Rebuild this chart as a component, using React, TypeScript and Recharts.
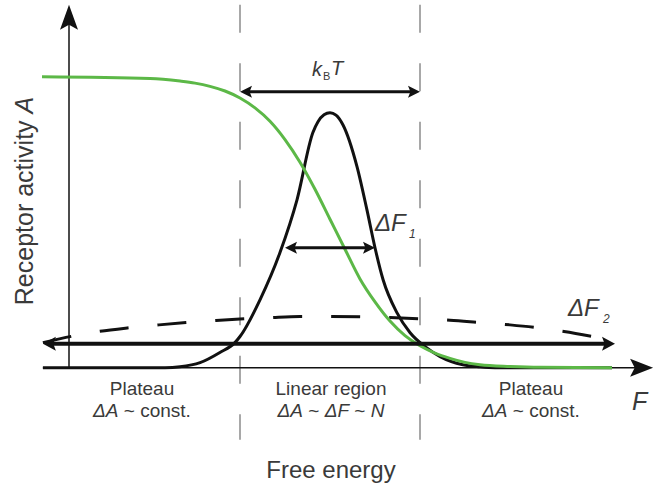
import React from 'react';
import { ComposedChart, Line, XAxis, YAxis, ReferenceLine } from 'recharts';

// free energy F (centre of linear region at 0) and receptor activity A
const greenF = [-9.6, -6, -5, -4.5, -4, -3.5, -3, -2.5, -2, -1.5, -1, -0.5, 0, 0.5, 1, 1.5, 2, 2.5, 3, 3.5, 4, 4.5, 5, 6, 7, 9.4];
const greenA = [1.0, 0.994, 0.985, 0.978, 0.967, 0.951, 0.927, 0.893, 0.847, 0.784, 0.706, 0.613, 0.51, 0.407, 0.305, 0.226, 0.16, 0.11, 0.075, 0.05, 0.032, 0.018, 0.01, 0.004, 0.001, 0];

// narrow distribution (ΔF1)
const peakF = [-9.57, -5.5, -5, -4.33, -3.67, -3.17, -3, -2.33, -1.67, -1.1, -0.57, -0.4, -0.2, 0, 0.2, 0.43, 0.9, 1.23, 1.5, 1.77, 2.23, 2.67, 3.17, 3.67, 4.43, 5, 5.5, 9.4];
const peakA = [0, 0, 0.003, 0.017, 0.052, 0.086, 0.107, 0.234, 0.395, 0.577, 0.808, 0.845, 0.869, 0.876, 0.868, 0.835, 0.691, 0.543, 0.412, 0.302, 0.189, 0.12, 0.072, 0.038, 0.01, 0.003, 0, 0];

// wide distribution (ΔF2), dashed
const wideF = [-9.57, -8.6, -7.67, -6.7, -5.7, -4.8, -3.8, -3, -2, -1, 0, 1, 2, 3, 4, 5, 6, 7, 7.8, 8.77];
const wideA = [0.086, 0.108, 0.125, 0.137, 0.147, 0.155, 0.162, 0.167, 0.172, 0.176, 0.176, 0.175, 0.172, 0.168, 0.163, 0.155, 0.147, 0.136, 0.124, 0.107];

// region borders and arrows
const regionEdges = [-3, 3];
const dashTop = 1.247;
const dashBottom = -0.248;
const kbtY = 0.948;
const df1Span = [-1.5, 1.5];
const df1Y = 0.412;
const rangeSpan = [-9.57, 9.5];
const rangeY = 0.0825;
const axisXSpan = [-9.57, 10.77];
const axisYX = -8.7;

const greenData = greenF.map((f, i) => ({ f, a: greenA[i] }));
const peakData = peakF.map((f, i) => ({ f, a: peakA[i] }));
const wideData = wideF.map((f, i) => ({ f, a: wideA[i] }));

const W = 666;
const H = 489;
const FONT = '"Liberation Sans", Arial, sans-serif';

type ArrowOpts = { color: string; width: number; head: number; half: number; start?: boolean; end?: boolean };

function arrowShape(o: ArrowOpts) {
  return (p: any) => {
    const { x1, y1, x2, y2 } = p;
    const len = Math.hypot(x2 - x1, y2 - y1) || 1;
    const ux = (x2 - x1) / len;
    const uy = (y2 - y1) / len;
    const nx = -uy;
    const ny = ux;
    const tri = (tx: number, ty: number, d: number) => {
      const bx = tx - d * ux * o.head;
      const by = ty - d * uy * o.head;
      const mx = tx - d * ux * o.head * 0.8;
      const my = ty - d * uy * o.head * 0.8;
      return `${tx},${ty} ${bx + nx * o.half},${by + ny * o.half} ${mx},${my} ${bx - nx * o.half},${by - ny * o.half}`;
    };
    const sx = o.start ? x1 + ux * o.head * 0.7 : x1;
    const sy = o.start ? y1 + uy * o.head * 0.7 : y1;
    const ex = o.end ? x2 - ux * o.head * 0.7 : x2;
    const ey = o.end ? y2 - uy * o.head * 0.7 : y2;
    return (
      <g>
        <line x1={sx} y1={sy} x2={ex} y2={ey} stroke={o.color} strokeWidth={o.width} />
        {o.start && <polygon points={tri(x1, y1, -1)} fill={o.color} />}
        {o.end && <polygon points={tri(x2, y2, 1)} fill={o.color} />}
      </g>
    );
  };
}

export default function App() {
  const txt = { fontFamily: FONT, fill: '#3a3a3a' };
  return (
    <div style={{ position: 'absolute', left: 0, top: 0, width: W, height: H, background: '#fff' }}>
      <ComposedChart width={W} height={H} margin={{ top: 4, right: 6, bottom: 5, left: 30 }}>
        <XAxis dataKey="f" type="number" domain={[-10, 11]} hide allowDataOverflow />
        <YAxis type="number" domain={[-0.4, 1.25]} hide allowDataOverflow />

        {regionEdges.map((x) => (
          <ReferenceLine
            key={x}
            segment={[{ x, y: dashTop }, { x, y: dashBottom }]}
            stroke="#8c8c8c"
            strokeWidth={1.5}
            strokeDasharray="28 30.5"
            ifOverflow="visible"
          />
        ))}

        {/* axes */}
        <ReferenceLine
          segment={[{ x: axisYX, y: 0 }, { x: axisYX, y: dashTop }]}
          ifOverflow="visible"
          shape={arrowShape({ color: '#111', width: 1.5, head: 25, half: 9, end: true })}
        />
        <ReferenceLine
          segment={[{ x: axisXSpan[0], y: 0 }, { x: axisXSpan[1], y: 0 }]}
          ifOverflow="visible"
          shape={arrowShape({ color: '#111', width: 1.5, head: 23, half: 9, end: true })}
        />

        <Line data={wideData} dataKey="a" type="monotone" stroke="#111" strokeWidth={3} strokeDasharray="29 29" dot={false} isAnimationActive={false} />
        <Line data={peakData} dataKey="a" type="monotone" stroke="#111" strokeWidth={3} dot={false} isAnimationActive={false} />
        <Line data={greenData} dataKey="a" type="monotone" stroke="#5cb847" strokeWidth={3} dot={false} isAnimationActive={false} />

        <ReferenceLine
          segment={[{ x: rangeSpan[0], y: rangeY }, { x: rangeSpan[1], y: rangeY }]}
          ifOverflow="visible"
          shape={arrowShape({ color: '#111', width: 4, head: 13, half: 7, start: true, end: true })}
        />
        <ReferenceLine
          segment={[{ x: regionEdges[0], y: kbtY }, { x: regionEdges[1], y: kbtY }]}
          ifOverflow="visible"
          shape={arrowShape({ color: '#111', width: 3, head: 12, half: 6, start: true, end: true })}
        />
        <ReferenceLine
          segment={[{ x: df1Span[0], y: df1Y }, { x: df1Span[1], y: df1Y }]}
          ifOverflow="visible"
          shape={arrowShape({ color: '#111', width: 3, head: 12, half: 6, start: true, end: true })}
        />
      </ComposedChart>

      <svg width={W} height={H} style={{ position: 'absolute', left: 0, top: 0, pointerEvents: 'none' }}>
        <text x={33} y={201} transform="rotate(-90 33 201)" textAnchor="middle" fontSize={25} {...txt}>
          Receptor activity <tspan fontStyle="italic">A</tspan>
        </text>

        <text x={312} y={76} fontSize={20} fontStyle="italic" {...txt}>k</text>
        <text x={323} y={80} fontSize={11} {...txt}>B</text>
        <text x={331} y={75} fontSize={20} fontStyle="italic" {...txt}>T</text>

        <text x={375} y={231} fontSize={24} fontStyle="italic" {...txt}>ΔF</text>
        <text x={409} y={238} fontSize={12} fontStyle="italic" {...txt}>1</text>
        <text x={568} y={316} fontSize={24} fontStyle="italic" {...txt}>ΔF</text>
        <text x={603} y={323} fontSize={12} fontStyle="italic" {...txt}>2</text>

        <text x={632} y={410} fontSize={25} fontStyle="italic" {...txt}>F</text>

        <text x={142} y={395} textAnchor="middle" fontSize={19} {...txt}>Plateau</text>
        <text x={142} y={417} textAnchor="middle" fontSize={19} {...txt}>
          <tspan fontStyle="italic">ΔA</tspan> ~ const.
        </text>
        <text x={331} y={395} textAnchor="middle" fontSize={19} {...txt}>Linear region</text>
        <text x={331} y={417} textAnchor="middle" fontSize={19} {...txt}>
          <tspan fontStyle="italic">ΔA</tspan> ~ <tspan fontStyle="italic">ΔF</tspan> ~ <tspan fontStyle="italic">N</tspan>
        </text>
        <text x={531} y={395} textAnchor="middle" fontSize={19} {...txt}>Plateau</text>
        <text x={531} y={417} textAnchor="middle" fontSize={19} {...txt}>
          <tspan fontStyle="italic">ΔA</tspan> ~ const.
        </text>

        <text x={331} y={478} textAnchor="middle" fontSize={24} {...txt}>Free energy</text>
      </svg>
    </div>
  );
}
